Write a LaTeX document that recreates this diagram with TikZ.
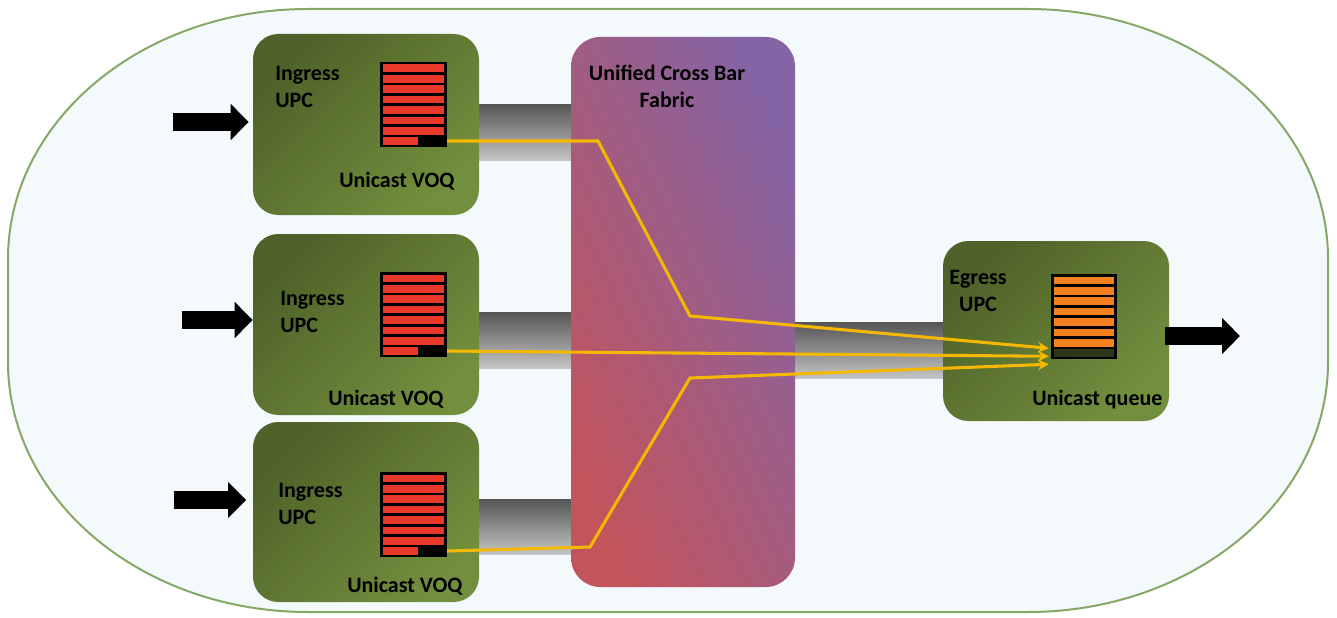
\documentclass[tikz,border=0pt]{standalone}
\usepackage{fontspec}
\setmainfont{Carlito}
\usetikzlibrary{arrows.meta,fit,calc,positioning}

\definecolor{chassisfill}{HTML}{F4F9FC}
\definecolor{chassisline}{HTML}{86A866}
\definecolor{upcdark}{HTML}{4E6229}
\definecolor{upcmid}{HTML}{6D8A3A}
\definecolor{upclight}{HTML}{728F3D}
\definecolor{fabred}{HTML}{C2545C}
\definecolor{fabmid}{HTML}{AC5D86}
\definecolor{fabpurple}{HTML}{8464A4}
\definecolor{pipedark}{HTML}{555555}
\definecolor{pipelight}{HTML}{C4C4C4}
\definecolor{voqred}{HTML}{E8392A}
\definecolor{egorange}{HTML}{F58220}
\definecolor{egdark}{HTML}{2E3519}
\definecolor{flowyellow}{HTML}{F5B800}

\begin{document}
\begin{tikzpicture}[
		x = 0.75pt, y = -0.75pt,
		upc/.style = { rounded corners = 19pt, inner sep = 0pt, top color = upcdark, middle color = upcmid, bottom color = upclight, shading angle = 45 },
		fabric/.style = { rounded corners = 22pt, inner sep = 0pt, top color = fabpurple, middle color = fabmid, bottom color = fabred, shading angle = -65 },
		pipe/.style = { inner sep = 0pt, top color = pipedark, bottom color = pipelight },
		queue/.style = { fill = black, inner sep = 0pt },
		lbl/.style = { font = \fontsize{16.5}{20}\selectfont\bfseries, inner sep = 0pt, anchor = base west },
		flow/.style = { draw = flowyellow, line width = 2.3pt, -{Stealth[length = 8pt, width = 8pt]} },
		bigarrow/.style = { line width = 13.5pt, -{Triangle[length = 13.5pt, width = 26.25pt]} }
	]
	\useasboundingbox (0,0) rectangle (1337,617);

	% chassis
	\draw[draw = chassisline, fill = chassisfill, line width = 1.5pt]
		(308,9) -- (1028,9)
		arc[start angle = -90, end angle = 0, x radius = 300, y radius = 250] -- (1328,362)
		arc[start angle = 0, end angle = 90, x radius = 300, y radius = 250] -- (308,612)
		arc[start angle = 90, end angle = 180, x radius = 300, y radius = 250] -- (8,259)
		arc[start angle = 180, end angle = 270, x radius = 300, y radius = 250] -- cycle;

	% pipes into and out of the fabric
	\node[pipe, fit = {(470,104) (580,160)}] (pipe1) {};
	\node[pipe, fit = {(470,312) (580,368)}] (pipe2) {};
	\node[pipe, fit = {(470,499) (580,554)}] (pipe3) {};
	\node[pipe, fit = {(785,322) (950,378)}] (pipe4) {};

	% boxes
	\node[upc, fit = {(253,34) (479,215)}] (ing1) {};
	\node[upc, fit = {(253,234) (479,415)}] (ing2) {};
	\node[upc, fit = {(253,422) (479,602)}] (ing3) {};
	\node[fabric, fit = {(571,37) (795,587)}] (fab) {};
	\node[upc, fit = {(943,241) (1169,421)}] (egr) {};

	% ingress VOQs
	\foreach \qy [count = \n] in {62,272,472} {
		\node[queue, fit = {(380,\qy) (447,\qy+85)}] (voq\n) {};
		\foreach \i in {0,...,6}
			\fill[voqred] (383,\qy+2.5+\i*10.4) rectangle (444,\qy+10.1+\i*10.4);
		\fill[voqred] (383,\qy+75.3) rectangle (418,\qy+82.9);
		\coordinate (voqout\n) at (447,\qy+79);
	}

	% egress queue
	\node[queue, fit = {(1051,274) (1117,359)}] (egq) {};
	\foreach \i in {0,...,6}
		\fill[egorange] (1054,276.5+\i*10.4) rectangle (1114,284.1+\i*10.4);
	\fill[egdark] (1054,349.3) rectangle (1114,356.5);

	% labels
	\node[lbl, align = left] (ing1lbl) at (275,107) {Ingress\\UPC};
	\node[lbl, align = left] (ing2lbl) at (280,332) {Ingress\\UPC};
	\node[lbl, align = left] (ing3lbl) at (278,524) {Ingress\\UPC};
	\node[lbl] (voq1lbl) at (339,187) {Unicast VOQ};
	\node[lbl] (voq2lbl) at (328,405) {Unicast VOQ};
	\node[lbl] (voq3lbl) at (347,592) {Unicast VOQ};
	\node[lbl, align = center, anchor = base] (fablbl) at (667,107) {Unified Cross Bar\\Fabric};
	\node[lbl, align = center, anchor = base] (egrlbl) at (978,311) {Egress\\UPC};
	\node[lbl] (egqlbl) at (1032,405) {Unicast queue};

	% traffic through the fabric
	\draw[flow] (voqout1) -- (598,141) -- (690,316) -- ($(egq.south west) + (-2,-11)$);
	\draw[flow] (voqout2) -- ($(egq.south west) + (-2,-3)$);
	\draw[flow] (voqout3) -- (590,547) -- (690,378) -- ($(egq.south west) + (-2,5)$);

	% ports
	\coordinate (in1) at (173,122);
	\coordinate (in2) at (182,320);
	\coordinate (in3) at (174,500);
	\coordinate (out) at (1240,336);
	\draw[bigarrow, shorten > = 3pt] (in1) -- (in1 -| ing1.west);
	\draw[bigarrow] (in2) -- (in2 -| ing2.west);
	\draw[bigarrow, shorten > = 5pt] (in3) -- (in3 -| ing3.west);
	\draw[bigarrow, shorten < = -3pt] (out -| egr.east) -- (out);
\end{tikzpicture}
\end{document}
